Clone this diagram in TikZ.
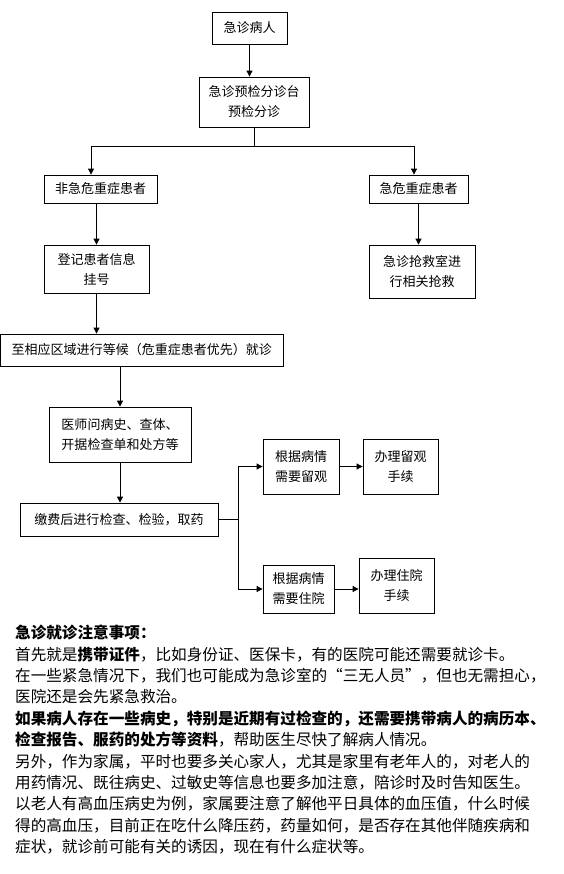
\documentclass[tikz,border=0pt]{standalone}
\usepackage{fontspec}
\setmainfont{Noto Sans CJK SC}
\usetikzlibrary{arrows.meta}

\begin{document}
\begin{tikzpicture}[x=1bp,y=-1bp,
  box/.style={draw, line width=0.8bp, inner sep=0pt, align=center, font=\fontsize{13bp}{20bp}\selectfont},
  link/.style={line width=0.8bp},
  arr/.style={link, -{Triangle[length=6bp,width=6bp]}}]
\useasboundingbox (0,0) rectangle (564,874);
% boxes
\node[box, minimum width=75bp, minimum height=32bp] (patient) at (249.5,28) {急诊病人};
\node[box, minimum width=110bp, minimum height=50bp] (triage) at (254,102) {急诊预检分诊台\\预检分诊};
\node[box, minimum width=113bp, minimum height=28bp] (nonurg) at (100.5,189) {非急危重症患者};
\node[box, minimum width=99bp, minimum height=28bp] (urgent) at (418.5,189) {急危重症患者};
\node[box, minimum width=105bp, minimum height=48bp] (register) at (96.5,269) {登记患者信息\\挂号};
\node[box, minimum width=106bp, minimum height=53bp] (rescue) at (422,271.5) {急诊抢救室进\\行相关抢救};
\node[box, minimum width=282.5bp, minimum height=32bp] (wait) at (141.75,350) {至相应区域进行等候（危重症患者优先）就诊};
\node[box, minimum width=142bp, minimum height=55bp] (doctor) at (120,434.5) {医师问病史、查体、\\开据检查单和处方等};
\node[box, minimum width=198bp, minimum height=33bp] (pay) at (119,519.5) {缴费后进行检查、检验，取药};
\node[box, minimum width=76bp, minimum height=55bp] (observe) at (301,466.5) {根据病情\\需要留观};
\node[box, minimum width=75bp, minimum height=55bp] (obsproc) at (400.5,466.5) {办理留观\\手续};
\node[box, minimum width=71bp, minimum height=48bp] (admit) at (298.5,589) {根据病情\\需要住院};
\node[box, minimum width=75bp, minimum height=55bp] (admproc) at (396.5,585.5) {办理住院\\手续};
% arrows
\draw[arr] (patient.south) -- (patient.south |- triage.north);
\draw[link] (triage.south) -- ++(0,19) coordinate (split);
\draw[arr] (split) -| ([xshift=-9.5bp]nonurg.north);
\draw[arr] (split) -| ([xshift=-4.5bp]urgent.north);
\draw[arr] (register.north |- nonurg.south) -- (register.north);
\draw[arr] (urgent.south) -- (urgent.south |- rescue.north);
\draw[arr] (register.south) -- (register.south |- wait.north);
\draw[arr] (wait.south -| doctor.north) -- (doctor.north);
\draw[arr] (doctor.south) -- (doctor.south |- pay.north);
\draw[link] (pay.east) -- ++(20,0) coordinate (fork);
\draw[arr] (fork) |- (observe.west);
\draw[arr] (fork) |- (admit.west);
\draw[arr] (observe) -- (obsproc);
\draw[arr] (admit.east) -- (admit.east -| admproc.west);
% notes
\node[anchor=north west, align=left, inner sep=0pt, font=\fontsize{15.6bp}{21.4bp}\selectfont] (notes) at (15,625) {%
\textbf{急诊就诊注意事项：}\\
首先就是\textbf{携带证件}，比如身份证、医保卡，有的医院可能还需要就诊卡。\\
在一些紧急情况下，我们也可能成为急诊室的“三无人员”，但也无需担心，\\
医院还是会先紧急救治。\\
\textbf{如果病人存在一些病史，特别是近期有过检查的，还需要携带病人的病历本、}\\
\textbf{检查报告、服药的处方等资料}，帮助医生尽快了解病人情况。\\
另外，作为家属，平时也要多关心家人，尤其是家里有老年人的，对老人的\\
用药情况、既往病史、过敏史等信息也要多加注意，陪诊时及时告知医生。\\
以老人有高血压病史为例，家属要注意了解他平日具体的血压值，什么时候\\
得的高血压，目前正在吃什么降压药，药量如何，是否存在其他伴随疾病和\\
症状，就诊前可能有关的诱因，现在有什么症状等。};
\end{tikzpicture}
\end{document}
